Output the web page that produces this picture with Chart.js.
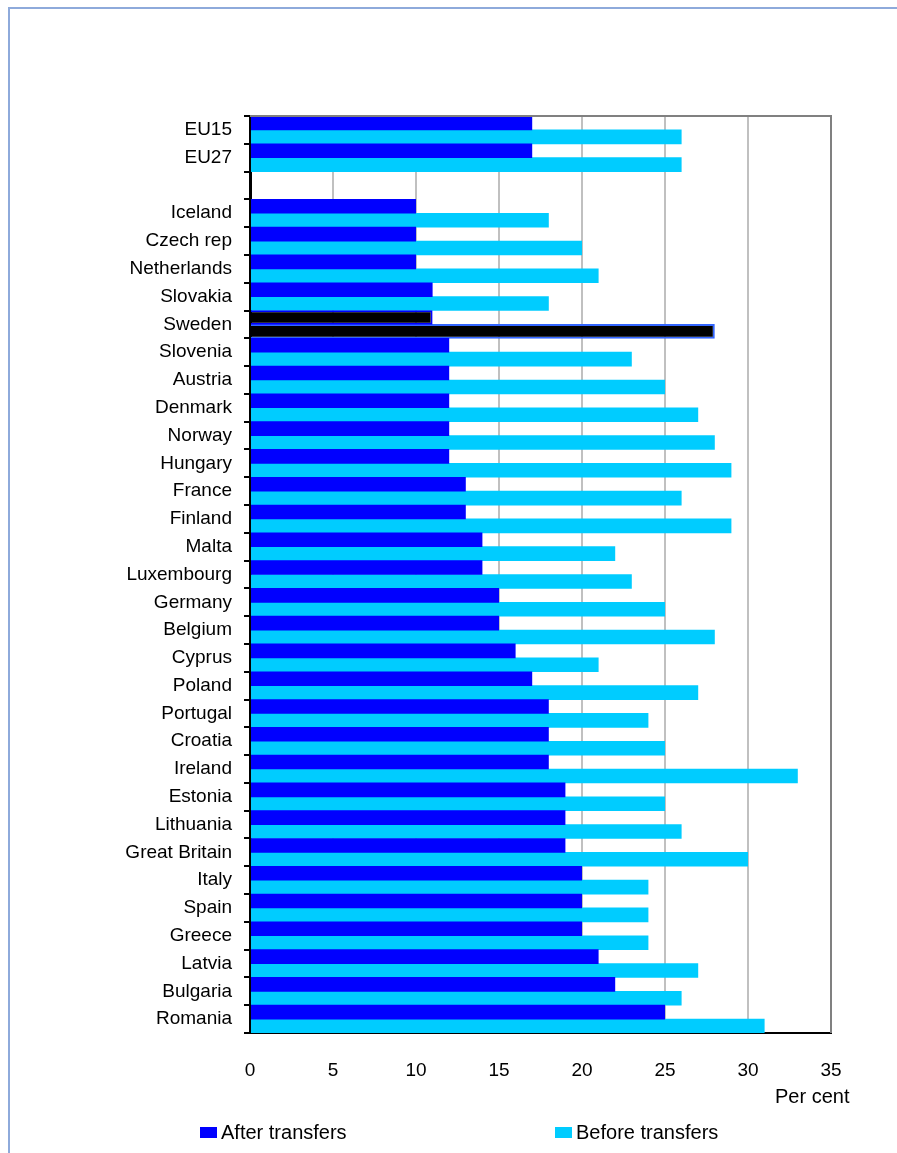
<!DOCTYPE html>
<html>
<head>
<meta charset="utf-8">
<script src="https://cdn.jsdelivr.net/npm/chart.js@4/dist/chart.umd.min.js"></script>
<style>
body { margin: 0; background: #fff; font-family: "Liberation Sans", Arial, sans-serif; }
#wrap { position: relative; width: 897px; height: 1153px; overflow: hidden; }
#frame { position: absolute; left: 8px; top: 7px; width: 900px; height: 1200px; border: 2px solid #8eaadb; }
canvas { position: absolute; left: 0; top: 0; }
.txt { position: absolute; font-size: 20px; color: #000; }
.sw { display: inline-block; width: 17px; height: 11px; margin-right: 4px; vertical-align: 1px; }
</style>
</head>
<body>
<div id="wrap">
  <div id="frame"></div>
  <canvas id="chart" width="897" height="1153"></canvas>
  <div class="txt" style="left:775px; top:1085px;">Per cent</div>
  <div class="txt" style="left:200px; top:1121px;"><span class="sw" style="background:#0000ff"></span>After transfers</div>
  <div class="txt" style="left:555px; top:1121px;"><span class="sw" style="background:#00ccff"></span>Before transfers</div>
</div>
<script>
let countries = ['EU15', 'EU27', '', 'Iceland', 'Czech rep', 'Netherlands', 'Slovakia', 'Sweden', 'Slovenia', 'Austria',
    'Denmark', 'Norway', 'Hungary', 'France', 'Finland', 'Malta', 'Luxembourg', 'Germany', 'Belgium', 'Cyprus',
    'Poland', 'Portugal', 'Croatia', 'Ireland', 'Estonia', 'Lithuania', 'Great Britain', 'Italy', 'Spain', 'Greece',
    'Latvia', 'Bulgaria', 'Romania']
let afterTransfers = [17, 17, null, 10, 10, 10, 11, 11, 12, 12,
    12, 12, 12, 13, 13, 14, 14, 15, 15, 16,
    17, 18, 18, 18, 19, 19, 19, 20, 20, 20,
    21, 22, 25]
let beforeTransfers = [26, 26, null, 18, 20, 21, 18, 28, 23, 25,
    27, 28, 29, 26, 29, 22, 23, 25, 28, 21,
    27, 24, 25, 33, 25, 26, 30, 24, 24, 24,
    27, 26, 31]
let xTicks = [0, 5, 10, 15, 20, 25, 30, 35]

// Sweden is highlighted in black
let afterColors = countries.map(c => c === 'Sweden' ? '#000' : '#0000ff')
let beforeColors = countries.map(c => c === 'Sweden' ? '#000' : '#00ccff')
let beforeBorders = countries.map(c => c === 'Sweden' ? '#3366ff' : '#00ccff')
let borderW = countries.map(c => c === 'Sweden' ? 2 : 0)

const boxPlugin = {
    id: 'box',
    afterDraw(chart) {
        const a = chart.chartArea
        const ctx = chart.ctx
        ctx.save()
        ctx.strokeStyle = '#808080'
        ctx.lineWidth = 2
        ctx.beginPath()
        ctx.moveTo(a.left, a.top)
        ctx.lineTo(a.right, a.top)
        ctx.lineTo(a.right, a.bottom)
        ctx.stroke()
        ctx.restore()
    }
}

new Chart(document.getElementById('chart'), {
    type: 'bar',
    data: {
        labels: countries,
        datasets: [
            // after transfers drawn on top of the before bars (order 0)
            { label: 'After transfers', data: afterTransfers, backgroundColor: afterColors, borderColor: '#0000ff', borderWidth: borderW, categoryPercentage: 1.0, barPercentage: 1.05, order: 0 },
            { label: 'Before transfers', data: beforeTransfers, backgroundColor: beforeColors, borderColor: beforeBorders, borderWidth: borderW, categoryPercentage: 1.0, barPercentage: 1.05, order: 1 }
        ]
    },
    options: {
        indexAxis: 'y',
        responsive: false,
        animation: false,
        layout: { padding: { top: 116, right: 66, bottom: 75, left: 0 } },
        plugins: { legend: { display: false }, tooltip: { enabled: false } },
        scales: {
            x: {
                min: 0, max: 35,
                afterBuildTicks: s => { s.ticks = xTicks.map(v => ({ value: v })) },
                afterFit: s => { s.height = 45 },
                grid: { color: ctx => ctx.tick.value === 0 || ctx.tick.value === 35 ? 'rgba(0,0,0,0)' : '#c0c0c0', lineWidth: 2, drawTicks: false },
                border: { color: '#000', width: 2 },
                ticks: { color: '#000', font: { family: 'Liberation Sans', size: 19 }, padding: 26 }
            },
            y: {
                afterFit: s => { s.width = 250 },
                grid: { offset: true, drawOnChartArea: false, color: '#000', lineWidth: 2, tickLength: 6 },
                border: { color: '#000', width: 3 },
                ticks: { color: '#000', font: { family: 'Liberation Sans', size: 19 }, padding: 12, autoSkip: false }
            }
        }
    },
    plugins: [boxPlugin]
})
</script>
</body>
</html>
